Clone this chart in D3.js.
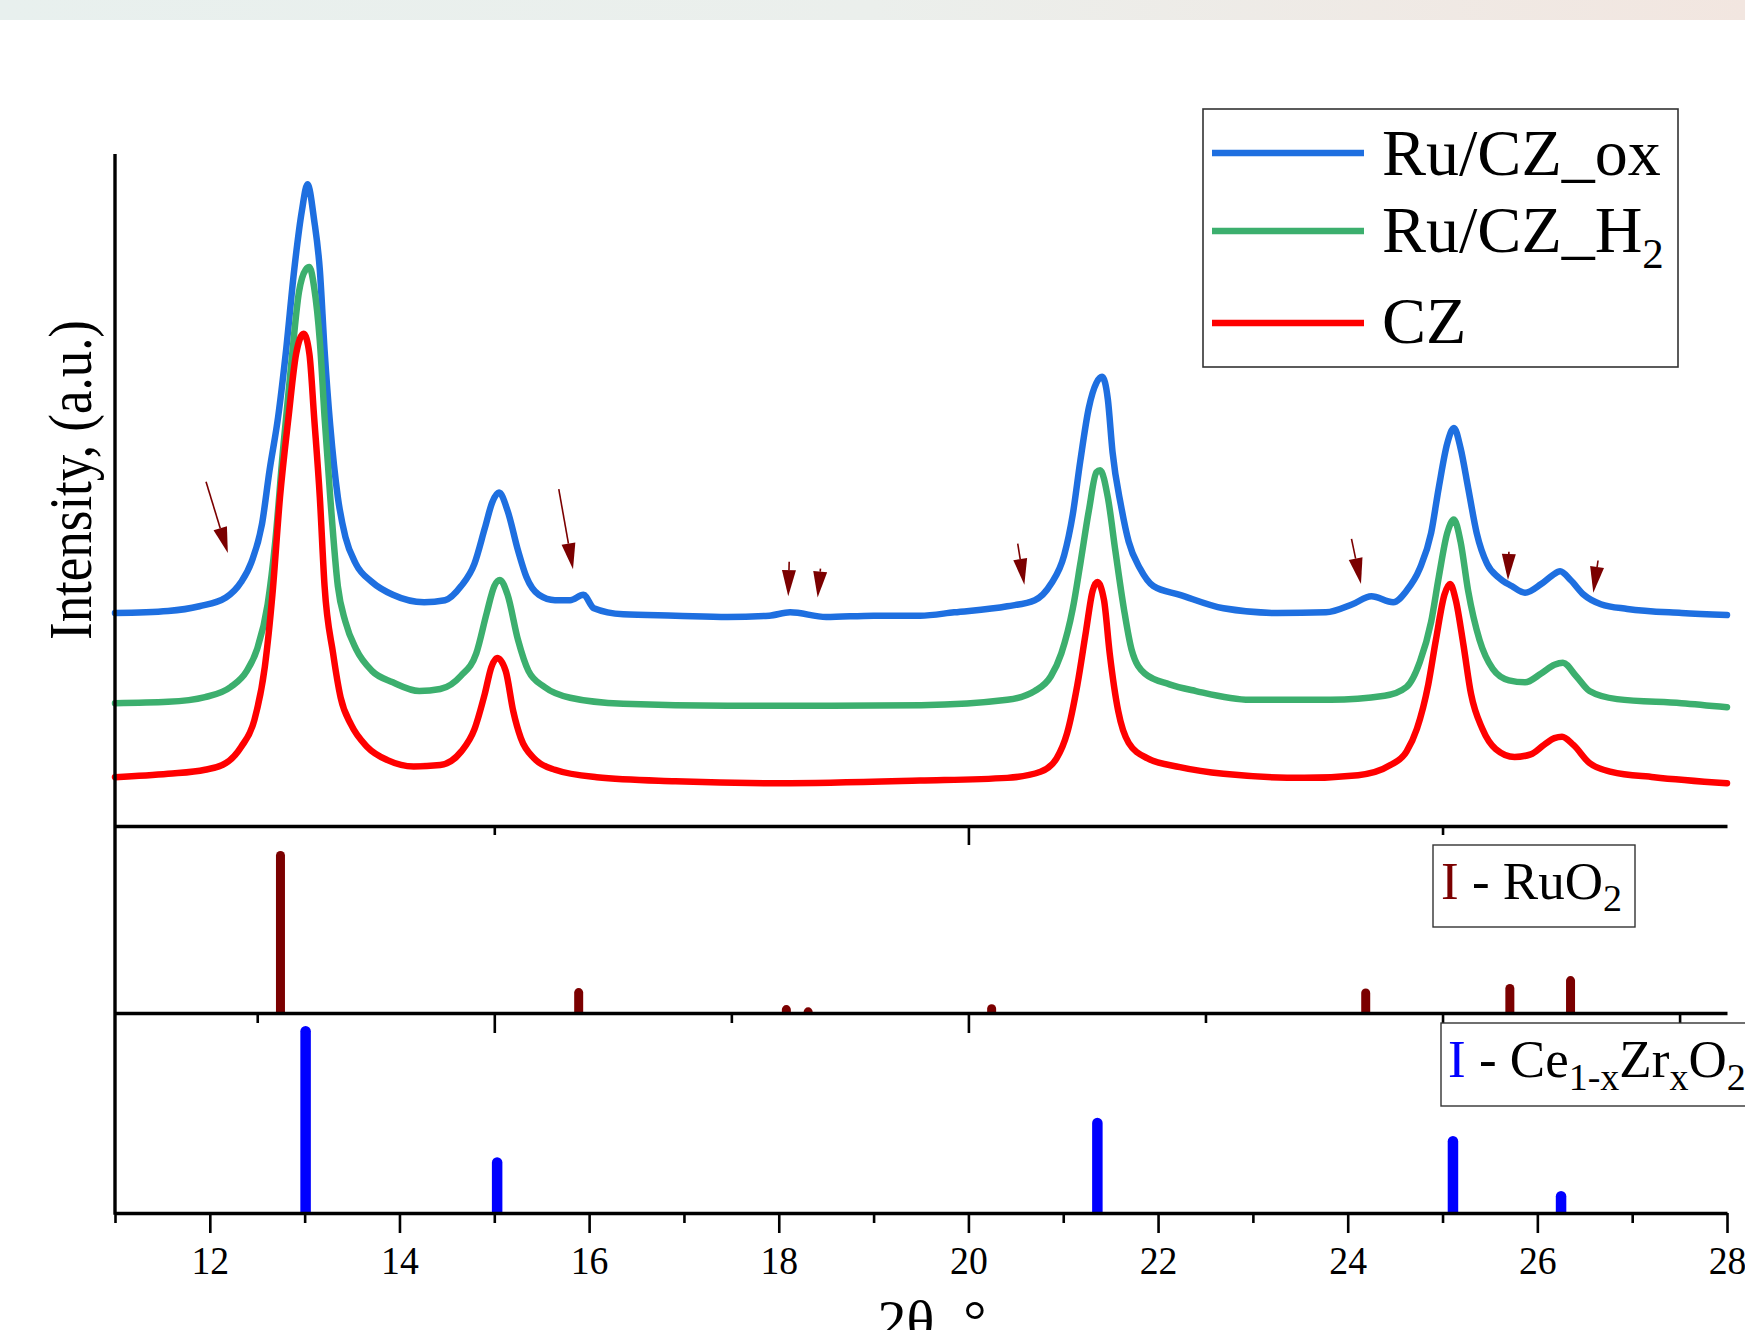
<!DOCTYPE html>
<html>
<head>
<meta charset="utf-8">
<script src="https://cdn.jsdelivr.net/npm/d3@7"></script>
<style>
  html, body { margin: 0; padding: 0; background: #ffffff; }
  svg { display: block; }
  text { font-family: "Liberation Serif", "Times New Roman", serif; }
</style>
</head>
<body>
<script>
// ---- Measured diffractograms: [2θ, intensity (a.u.)] ----
const ruCzOx = [
  [11.00,318],[11.56,321],[11.89,328],[12.17,341],[12.33,364],[12.44,394],[12.55,450],[12.63,530],
  [12.72,609],[12.80,703],[12.89,828],[12.97,915],[13.03,955],[13.10,902],[13.16,828],[13.21,709],
  [13.27,596],[13.35,490],[13.43,431],[13.54,391],[13.71,364],[13.93,345],[14.26,334],[14.48,337],
  [14.65,358],[14.79,391],[14.90,444],[14.98,483],[15.05,497],[15.14,470],[15.25,411],[15.34,371],
  [15.47,345],[15.64,337],[15.80,337],[15.94,345],[16.05,325],[16.36,316],[16.91,314],[17.46,312],
  [17.90,314],[18.12,319],[18.50,312],[19.00,314],[19.49,314],[19.85,319],[20.41,328],[20.70,337],
  [20.87,361],[21.01,404],[21.10,464],[21.18,544],[21.27,623],[21.35,660],[21.41,669],[21.47,636],
  [21.52,557],[21.61,477],[21.69,424],[21.81,384],[21.95,358],[22.23,345],[22.69,325],[23.26,318],
  [23.77,319],[24.05,331],[24.25,343],[24.48,334],[24.62,351],[24.76,384],[24.88,437],[24.96,504],
  [25.05,570],[25.12,593],[25.19,563],[25.27,504],[25.36,437],[25.47,391],[25.59,371],[25.73,358],
  [25.87,348],[26.04,361],[26.16,374],[26.24,380],[26.35,367],[26.49,345],[26.67,331],[26.95,324],
  [27.52,318],[28.00,315]
];
const ruCzH2 = [
  [11.00,184],[11.56,186],[11.95,193],[12.22,208],[12.39,232],[12.50,265],[12.61,331],[12.69,424],
  [12.77,557],[12.86,690],[12.94,795],[13.01,828],[13.05,832],[13.10,802],[13.16,722],[13.21,609],
  [13.27,490],[13.35,358],[13.43,305],[13.54,265],[13.71,232],[13.93,215],[14.21,202],[14.43,205],
  [14.65,225],[14.81,258],[14.92,318],[15.00,358],[15.06,367],[15.14,345],[15.25,278],[15.36,232],
  [15.53,208],[15.80,192],[16.36,183],[17.46,180],[18.56,180],[19.50,181],[20.41,189],[20.70,202],
  [20.87,224],[20.98,258],[21.10,324],[21.18,391],[21.27,470],[21.35,527],[21.39,530],[21.47,490],
  [21.55,410],[21.64,324],[21.72,264],[21.86,228],[22.12,212],[22.40,202],[22.97,189],[23.82,189],
  [24.39,195],[24.62,208],[24.76,245],[24.88,305],[24.96,371],[25.05,437],[25.12,457],[25.19,424],
  [25.27,351],[25.39,278],[25.53,235],[25.70,218],[25.87,215],[26.04,228],[26.18,241],[26.27,244],
  [26.41,224],[26.55,202],[26.84,190],[27.52,184],[28.00,178]
];
const cz = [
  [11.00,74],[11.56,79],[11.95,85],[12.17,95],[12.33,119],[12.47,159],[12.58,238],[12.66,345],
  [12.74,490],[12.83,609],[12.91,703],[12.99,733],[13.05,703],[13.10,609],[13.16,490],[13.21,358],
  [13.30,258],[13.38,192],[13.49,152],[13.66,119],[13.88,99],[14.15,90],[14.43,92],[14.65,112],
  [14.79,145],[14.90,198],[14.97,238],[15.03,251],[15.12,232],[15.20,172],[15.28,132],[15.42,102],
  [15.64,85],[16.08,74],[16.91,68],[18.01,65],[19.49,69],[20.41,73],[20.76,82],[20.93,102],
  [21.04,139],[21.15,212],[21.24,291],[21.31,351],[21.36,364],[21.43,337],[21.49,258],[21.58,172],
  [21.69,125],[21.89,102],[22.23,89],[22.69,79],[23.54,73],[24.11,77],[24.45,92],[24.62,112],
  [24.73,146],[24.85,212],[24.93,278],[25.02,345],[25.08,361],[25.14,337],[25.22,271],[25.30,198],
  [25.42,146],[25.56,116],[25.76,104],[25.93,108],[26.07,122],[26.18,132],[26.26,134],[26.38,122],
  [26.55,95],[26.78,82],[27.23,74],[28.00,65]
];

// ---- Legend entries: [label, subscript] ----
const seriesLabels = [["Ru/CZ_ox", ""], ["Ru/CZ_H", "2"], ["CZ", ""]];

// ---- Reference patterns (relative intensity, %) ----
const ruO2Pos = [12.745, 15.89, 18.08, 18.31, 20.245, 24.19, 25.71, 26.35];
const ruO2Int = [100, 15.4, 4.9, 3.5, 5.4, 15.2, 17.9, 22.8];
const ceZrPos = [13.01, 15.03, 21.36, 25.11, 26.25];
const ceZrInt = [100, 29.8, 51.0, 41.2, 11.8];

// ---- RuO2 markers on the Ru/CZ_ox pattern: tail and tip in (2θ, intensity) ----
const arrowTailX = [11.96, 15.68, 18.11, 18.44, 20.52, 24.04, 25.70, 26.64];
const arrowTailI = [513, 502, 394, 384, 421, 428, 409, 396];
const arrowTipX  = [12.19, 15.83, 18.10, 18.41, 20.59, 24.14, 25.69, 26.59];
const arrowTipI  = [407, 383, 343, 341, 360, 361, 367, 348];

// ---- Axis ticks ----
const xMajorTicks = [12, 14, 16, 18, 20, 22, 24, 26, 28];
const xMinorTicks = [11, 13, 15, 17, 19, 21, 23, 25, 27];
const midMajorTicks = [15, 20, 25];
const midMinorTicks = [12.5, 17.5, 22.5, 27.5];
const topMajorTicks = [20];
const topMinorTicks = [15, 25];

const W = 1745, H = 1330;
const colors = { ox: "#1e6fe0", h2: "#3caf6e", cz: "#ff0000", ruo2: "#7b0000", ce: "#0000ff" };

const svg = d3.select("body").append("svg").attr("width", W).attr("height", H);

// header band
const defs = svg.append("defs");
const grad = defs.append("linearGradient").attr("id", "hdr").attr("x1", "0%").attr("x2", "100%");
grad.append("stop").attr("offset", "0%").attr("stop-color", "#e8f0ee");
grad.append("stop").attr("offset", "50%").attr("stop-color", "#ebefec");
grad.append("stop").attr("offset", "100%").attr("stop-color", "#f2e6e0");
svg.append("rect").attr("x", 0).attr("y", 0).attr("width", W).attr("height", 20).attr("fill", "url(#hdr)");

// scales
const x = d3.scaleLinear().domain([11, 28]).range([115, 1727]);
const yMain = d3.scaleLinear().domain([0, 1000]).range([827, 154]);
const yRu = d3.scaleLinear().domain([0, 100]).range([1013, 851]);
const yCe = d3.scaleLinear().domain([0, 100]).range([1213, 1026]);

const mainBase = 826, midBase = 1013, botBase = 1213;

// ---- diffraction curves ----
const line = d3.line().x(d => x(d[0])).y(d => yMain(d[1])).curve(d3.curveMonotoneX);
[[ruCzOx, colors.ox], [ruCzH2, colors.h2], [cz, colors.cz]].forEach(([data, c]) => {
  svg.append("path").datum(data).attr("d", line)
    .attr("fill", "none").attr("stroke", c).attr("stroke-width", 6.5)
    .attr("stroke-linejoin", "round").attr("stroke-linecap", "round");
});

// ---- arrows ----
arrowTipX.forEach((tx, i) => {
  const x0 = x(arrowTailX[i]), y0 = yMain(arrowTailI[i]);
  const x1 = x(tx), y1 = yMain(arrowTipI[i]);
  const dx = x1 - x0, dy = y1 - y0, len = Math.hypot(dx, dy);
  const ux = dx / len, uy = dy / len;
  const headL = 26, headW = 7;
  const bx = x1 - ux * headL, by = y1 - uy * headL;
  svg.append("line").attr("x1", x0).attr("y1", y0).attr("x2", bx).attr("y2", by)
    .attr("stroke", colors.ruo2).attr("stroke-width", 1.6);
  svg.append("path")
    .attr("d", `M${x1},${y1} L${bx - uy * headW},${by + ux * headW} L${bx + uy * headW},${by - ux * headW} Z`)
    .attr("fill", colors.ruo2);
});

// ---- reference sticks with rounded tops ----
function sticks(pos, vals, yScale, base, w, color) {
  svg.append("g").selectAll("path").data(pos).join("path")
    .attr("d", (p, i) => {
      const cx = x(p), top = yScale(vals[i]), r = w / 2;
      return `M${cx - r},${base} L${cx - r},${top + r} A${r},${r} 0 0 1 ${cx + r},${top + r} L${cx + r},${base} Z`;
    })
    .attr("fill", color);
}
sticks(ruO2Pos, ruO2Int, yRu, midBase, 9, colors.ruo2);
sticks(ceZrPos, ceZrInt, yCe, botBase, 10.5, colors.ce);

// ---- axes ----
function hAxis(yPos, major, minor, majLen, minLen, labels) {
  const gMin = svg.append("g").attr("transform", `translate(0,${yPos})`)
    .call(d3.axisBottom(x).tickValues(minor).tickSize(minLen).tickSizeOuter(0).tickFormat(""));
  gMin.select(".domain").remove();
  gMin.selectAll(".tick line").attr("stroke", "#000").attr("stroke-width", 2.6);
  const gMaj = svg.append("g").attr("transform", `translate(0,${yPos})`)
    .call(d3.axisBottom(x).tickValues(major).tickSize(majLen).tickSizeOuter(0).tickPadding(12)
      .tickFormat(labels ? d3.format("d") : ""));
  gMaj.select(".domain").attr("stroke", "#000").attr("stroke-width", 3.6);
  gMaj.selectAll(".tick line").attr("stroke", "#000").attr("stroke-width", 2.6);
  gMaj.selectAll(".tick text").attr("font-size", 41).attr("fill", "#000")
    .attr("font-family", "'Liberation Serif', 'Times New Roman', serif")
    .attr("transform", "scale(0.92,1)")
    .attr("x", function () { return 0; });
}
hAxis(mainBase, topMajorTicks, topMinorTicks, 19, 9, false);
hAxis(midBase, midMajorTicks, midMinorTicks, 20, 10, false);
hAxis(botBase, xMajorTicks, xMinorTicks, 20, 10, true);

// left axis spanning all three panels
svg.append("line").attr("x1", x(11)).attr("x2", x(11)).attr("y1", yMain(1000)).attr("y2", botBase + 1.8)
  .attr("stroke", "#000").attr("stroke-width", 3.4);

// axis titles
svg.append("text").attr("transform", "translate(91,480) rotate(-90)")
  .attr("text-anchor", "middle").attr("font-size", 62)
  .attr("textLength", 320).attr("lengthAdjust", "spacingAndGlyphs")
  .text("Intensity, (a.u.)");
svg.append("text").attr("x", 932).attr("y", 1340).attr("text-anchor", "middle")
  .attr("font-size", 58).text("2θ, °");

// ---- legend ----
const lg = svg.append("g");
lg.append("rect").attr("x", 1203).attr("y", 109).attr("width", 475).attr("height", 258)
  .attr("fill", "#fff").attr("stroke", "#333").attr("stroke-width", 1.6);
const legendColors = [colors.ox, colors.h2, colors.cz];
const legendLineY = [153, 231, 323];
const legendTextY = [175, 252, 343];
seriesLabels.forEach((lab, i) => {
  lg.append("line").attr("x1", 1212).attr("x2", 1364).attr("y1", legendLineY[i]).attr("y2", legendLineY[i])
    .attr("stroke", legendColors[i]).attr("stroke-width", 6.5);
  const t = lg.append("text").attr("x", 1382).attr("y", legendTextY[i]).attr("font-size", 66).attr("fill", "#000");
  t.append("tspan").text(lab[0]);
  if (lab[1]) t.append("tspan").attr("font-size", 43).attr("dy", 16).text(lab[1]);
});

// ---- phase labels ----
svg.append("rect").attr("x", 1433).attr("y", 845).attr("width", 202).attr("height", 82)
  .attr("fill", "#fff").attr("stroke", "#333").attr("stroke-width", 1.4);
const tRu = svg.append("text").attr("x", 1441).attr("y", 899).attr("font-size", 53).attr("fill", "#000");
tRu.append("tspan").attr("fill", colors.ruo2).text("I");
tRu.append("tspan").text(" - RuO");
tRu.append("tspan").attr("font-size", 38).attr("dy", 12).text("2");

svg.append("rect").attr("x", 1441).attr("y", 1023).attr("width", 330).attr("height", 83)
  .attr("fill", "#fff").attr("stroke", "#333").attr("stroke-width", 1.4);
const tCe = svg.append("text").attr("x", 1448).attr("y", 1077).attr("font-size", 53).attr("fill", "#000");
tCe.append("tspan").attr("fill", colors.ce).text("I");
tCe.append("tspan").text(" - Ce");
tCe.append("tspan").attr("font-size", 38).attr("dy", 13).text("1-x");
tCe.append("tspan").attr("dy", -13).text("Zr");
tCe.append("tspan").attr("font-size", 38).attr("dy", 13).text("x");
tCe.append("tspan").attr("dy", -13).text("O");
tCe.append("tspan").attr("font-size", 38).attr("dy", 13).text("2");
</script>
</body>
</html>
